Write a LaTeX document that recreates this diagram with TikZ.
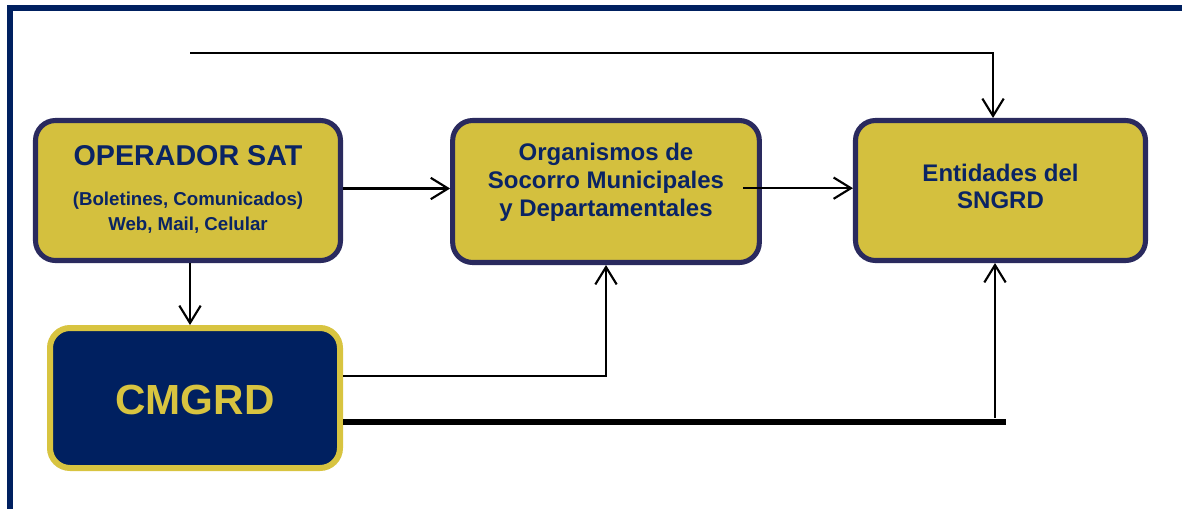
\documentclass[tikz,border=0pt]{standalone}
\usepackage{fontspec}
\setmainfont{Liberation Sans}
\usetikzlibrary{arrows.meta,calc}
\definecolor{frameblue}{RGB}{0,32,96}
\definecolor{boxyellow}{RGB}{212,192,62}
\definecolor{boxborder}{RGB}{42,42,94}
\definecolor{txtnavy}{RGB}{10,36,100}
\definecolor{cmyellow}{RGB}{216,196,64}
\tikzset{
  ybox/.style={draw=boxborder, fill=boxyellow, line width=3.8pt, rounded corners=15pt, inner sep=0pt},
  nbox/.style={draw=cmyellow, fill=frameblue, line width=4.5pt, rounded corners=15pt, inner sep=0pt},
  btxt/.style={font=\bfseries, text=txtnavy, align=center, inner sep=0pt},
  arr/.style={line width=1.6pt, -{Straight Barb[length=13pt,width=16pt,line width=1.6pt]}},
  conn/.style={line width=1.3pt},
  thick line/.style={line width=3.8pt}
}
\begin{document}
\begin{tikzpicture}[x=0.75pt,y=-0.75pt]
\useasboundingbox (0,0) rectangle (1182,508);
\fill[white] (0,0) rectangle (1182,508);
% outer frame
\draw[frameblue, line width=4.5pt] (9.5,520) -- (9.5,7.5) -- (1200,7.5);

% boxes
\node[ybox, minimum width=228.75pt, minimum height=105pt] (op) at (188,190.5) {};
\node[ybox, minimum width=230pt, minimum height=106.5pt] (org) at (606,191.5) {};
\node[ybox, minimum width=217.5pt, minimum height=105pt] (ent) at (1000.5,190.5) {};
\node[nbox, minimum width=217.5pt, minimum height=105pt] (cm) at (195,398) {};

% texts
\node[btxt, font=\bfseries\fontsize{21.5}{24}\selectfont] (t1) at (188,156) {OPERADOR SAT};
\node[btxt, font=\bfseries\fontsize{14}{19}\selectfont] (t2) at (188,212.5) {(Boletines, Comunicados)\\Web, Mail, Celular};
\node[btxt, font=\bfseries\fontsize{18}{21}\selectfont] (t3) at (606,182) {Organismos de\\Socorro Municipales\\y Departamentales};
\node[btxt, font=\bfseries\fontsize{18}{20.3}\selectfont] (t4) at (1000.5,186.5) {Entidades del\\SNGRD};
\node[btxt, text=cmyellow, font=\bfseries\fontsize{31.6}{36}\selectfont] (t5) at (195,400) {CMGRD};

% connectors
\coordinate (topstart) at (190,53);
\draw[arr] (topstart) -| ([xshift=-5.6pt]ent.north);
\draw[arr] ([yshift=1.5pt]op.east) -- ([yshift=1.5pt]org.west |- op.east);
\draw[arr] ([xshift=-14pt,yshift=2.5pt]org.east) -- ([yshift=2.5pt]ent.west |- org.east);
\draw[arr] ([xshift=1.5pt]op.south) -- ([xshift=1.5pt]op.south |- cm.north);
\draw[conn, -{Straight Barb[length=13pt,width=16pt,line width=1.6pt]}] ([yshift=16.5pt]cm.east) -| (org.south);
\coordinate (thickend) at (1006,422);
\draw[thick line] ([yshift=-18pt]cm.east) -- (thickend);
\coordinate (vstart) at (995,418);
\draw[arr] (vstart) -- (vstart |- ent.south);
\end{tikzpicture}
\end{document}
